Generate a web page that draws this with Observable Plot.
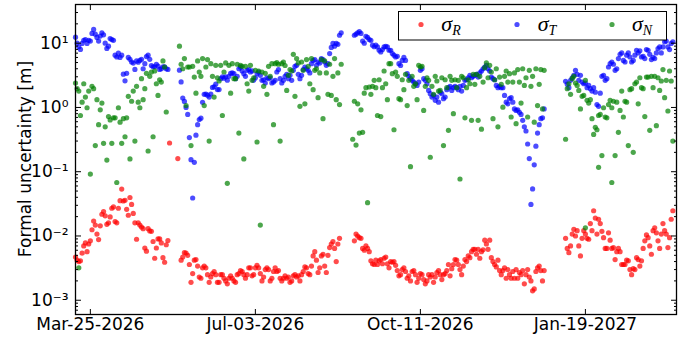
<!DOCTYPE html>
<html><head><meta charset="utf-8">
<script src="https://cdn.jsdelivr.net/npm/d3@7"></script>
<script src="https://cdn.jsdelivr.net/npm/@observablehq/plot@0.6"></script>
<style>body{margin:0;background:#fff}#chart{position:relative;width:691px;height:340px}</style>
</head><body><div id="chart"></div>
<script>
// day 0 = Mar-16-2026
const seriesNames = ["σR", "σT", "σN"];
const xTickLabels = ["Mar-25-2026", "Jul-03-2026", "Oct-11-2026", "Jan-19-2027"];
const yTicks = [1e-3, 1e-2, 1e-1, 1, 10];
const yLabel = "Formal uncertainty [m]";

const redStarts = [0, 64, 169, 297];
const redSegs = [
 [0.0047,0.0042,0.004,0.0041,0.0054,0.007,0.0078,0.0057,0.0075,0.0084,0.0125,0.0171,0.0148,0.0107,0.0088,0.0144,0.0218,0.024,0.0206,0.0152,0.016,0.0198,0.027,0.0283,0.0168,0.016,0.027,0.0354,0.0537,0.035,0.036,0.026,0.021,0.0397,0.031,0.0224,0.016,0.0089,0.016,0.0148,0.0138,0.013,0.0065,0.0058,0.013,0.012,0.0118,0.0082,0.0045,0.0065,0.009,0.009,0.0078,0.0046,0.0039,0.0073,0.0085],
 [0.0042,0.0047,0.0055,0.0054,0.005,0.0036,0.0019,0.0026,0.0042,0.0043,0.0034,0.0023,0.0022,0.0032,0.0034,0.0032,0.0025,0.0019,0.0023,0.0026,0.0028,0.0025,0.0019,0.0019,0.0025,0.0025,0.0022,0.002,0.0018,0.0022,0.0024,0.0022,0.002,0.0019,0.0025,0.0026,0.0029,0.0028,0.0025,0.0022,0.0025,0.0032,0.0032,0.0024,0.0025,0.0032,0.0035,0.0032,0.0026,0.002,0.0023,0.003,0.0032,0.003,0.002,0.0022,0.0028,0.0032,
  0.0028,0.0029,0.0022,0.002,0.0022,0.0024,0.0022,0.0023,0.0019,0.002,0.0024,0.0025,0.0023,0.0024,0.002,0.0025,0.0028,0.0033,0.0032,0.0026,0.0025,0.0034,0.0049,0.0057,0.0042,0.0027,0.0032,0.0049,0.0052,0.0034,0.0027,0.005,0.0066,0.0075,0.0082,0.0064,0.004,0.0075,0.0092],
 [0.0084,0.0107,0.01,0.0094,0.0092,0.0064,0.006,0.007,0.0064,0.0057,0.0041,0.0037,0.0036,
  0.0042,0.0036,0.0041,0.0043,0.0037,0.0045,0.0047,0.0037,0.0032,0.004,0.0039,0.004,0.0035,0.0029,0.0024,0.0025,0.003,0.0032,0.0028,0.0022,0.0024,0.002,0.0028,0.0029,0.0025,0.0019,0.0022,0.0026,0.0025,0.0021,0.0018,0.002,0.0025,0.0023,0.0025,0.0019,0.0023,0.0027,0.0029,0.0025,0.0021,0.0025,0.0026,0.0029,0.0036,0.0024,0.0031,0.0036,0.0043,0.0042,0.0036,0.003,0.0025,0.0034,0.0043,0.004,0.0049,0.0046,0.0057,0.0062,
  0.0062,0.0052,0.0062,0.0045,0.0057,0.0061,0.0086,0.0075,0.0062,0.0086,0.0046,0.004,0.0036,0.0033,0.0042,0.0029,0.0025,0.0029,0.0032,0.0022,0.003,0.0025,0.0022,0.0028,0.0022,0.003,0.0022,0.0027,0.0025,0.0029,0.0018,0.0025,0.003,0.0023,0.002,0.0014,0.0015,0.0028,0.0032,0.0034,0.0029,0.002,0.0029],
 [0.0092,0.0064,0.0055,0.007,0.0107,0.0127,
  0.01,0.0121,0.007,0.0049,0.0092,0.0121,0.0107,0.0092,0.0089,0.0156,0.0121,0.0247,0.019,0.0107,0.0182,0.0156,0.0118,0.0094,0.0064,0.0064,0.0112,0.0086,0.0064,0.0066,0.0043,0.0057,0.0064,0.0057,0.0036,0.0036,0.0036,0.0042,0.0041,0.003,0.0025,0.0031,0.003,0.0046,0.0043,0.0034,0.0041,0.0064,0.0084,0.0104,0.0094,0.007,0.0052,0.0121,0.0134,0.0112,0.0084,0.0064,0.0107,0.0156,0.0121,0.0107,0.0066,0.0094,0.0182,0.0247]
];
const redExtraDays = [57, 62];
const redExtraVals = [0.28, 0.16];

const blueStarts = [0, 63, 169, 297];
const blueSegs = [
 [12.4,10,8.8,8.0,9.9,11.1,11.4,9.9,11.1,10.8,14.2,16.4,13.8,12.3,10.8,12.9,14.5,13.5,10,8.3,9,11.8,11.4,11.1,6.5,6.1,7.0,6.0,6.5,3.3,2.6,3.4,6.0,5.6,5.1,4.9,3.9,5.3,5.05,5.4,5.6,4.0,4.8,6.2,6.5,5.6,4.5,4.3,4.3,4.7,4.4,3.9,4.0,4.3,4.3,4.0,3.9],
 [3.8,2.5,1.4,1.24,1.0,0.78,0.34,0.154,0.039,0.14,0.37,0.54,0.65,0.68,1.2,1.6,1.62,1.55,1.45,1.62,2.05,2.1,2.3,1.9,1.9,2.8,3.0,2.85,3.0,2.65,3.05,3.4,3.45,3.35,
  2.8,3.05,4.0,4.26,3.7,3.36,3.05,3.78,3.88,3.56,3.7,2.64,2.9,3.36,3.56,3.16,2.64,2.7,2.4,2.9,2.8,2.9,2.4,2.5,2.64,
  3.56,3.88,2.8,2.4,2.64,3.05,3.28,2.8,3.16,2.64,3.78,4.37,4.53,3.28,2.8,3.16,3.88,4.26,4.0,3.78,3.44,4.8,5.4,5.56,4.53,5.1,4.9,5.77,5.56,5.1,4.53,4.8,6.9,8.6,9.9,8.98,9.9,9.6,13.3,14.5],
 [13.3,13.8,14.5,15.1,14.2,10.8,10,12.8,12.3,11.4,11.1,9.3,8.8,
  9.3,8.75,7.77,7.3,7.96,8.75,8.9,8.75,7.77,7.77,6.9,6.5,6.1,6.26,4.8,4.5,5.4,6.0,5.4,3.36,3.05,2.8,2.64,2.48,2.34,2.2,2.48,3.78,4.0,2.8,2.64,2.34,1.84,1.64,1.45,1.54,1.29,1.45,1.21,1.73,1.64,1.37,1.45,1.89,2.03,2.13,1.84,2.03,2.13,2.03,1.89,2.13,1.8,2.2,2.64,2.7,2.9,3.16,2.9,3.05,
  3.16,3.28,2.97,3.44,3.69,4.0,4.26,4.53,4.0,3.69,2.97,2.8,2.7,2.2,2.03,2.13,2.03,2.03,1.54,1.21,1.14,1.37,1.42,1.21,0.95,0.9,0.92,0.84,0.78,0.63,0.5,0.43,0.27,0.16,0.031,0.054,0.128,0.25,0.4,0.54,0.67,0.69,0.95],
 [2.55,2.3,2.03,2.64,2.9,3.16,
  3.78,3.28,2.64,3.16,2.48,2.34,2.4,2.03,2.2,1.96,1.8,2.03,1.73,1.11,1.04,1.67,3.05,3.16,2.64,2.8,4.26,4.8,5.1,4.7,3.78,4.0,5.77,6.7,7.05,5.4,5.1,6.5,7.05,6.1,5.1,5.4,6.5,7.77,7.05,7.6,6.1,6.26,5.77,7.96,7.77,6.7,5.56,6.0,5.77,7.05,8.25,8.75,7.05,8.75,10.5,10.8,8.75,7.96,9.9,10.5]
];

const greenStarts = [0, 63, 168, 297];
const greenSegs = [
 [2.4,1.96,1.8,0.75,1.21,2.34,1.45,0.99,1.8,0.092,2.13,1.96,0.255,1.32,0.54,0.92,1.17,0.277,0.5,0.152,0.72,0.64,0.277,0.69,0.69,0.068,0.99,0.59,0.277,0.67,0.35,0.69,1.49,0.158,1.25,1.8,0.3,2.13,1.21,0.99,2.8,1.32,1.96,3.4,0.21,3.05,3.56,0.35,3.7,2.34,1.54,2.7,2.48,5.3,4.26,0.85],
 [8.98,4.7,4.0,5.77,1.07,4.26,4.26,0.255,4.37,2.97,1.67,5.3,3.56,3.05,5.77,1.07,4.26,5.56,0.3,4.8,3.05,1.45,4.53,2.9,2.58,4.53,0.75,3.56,4.93,0.066,4.53,1.67,4.8,2.8,2.8,4.7,0.4,4.53,4.37,0.158,4.37,2.34,1.8,4.53,2.64,2.9,3.78,0.29,3.69,0.0148,3.56,2.13,3.4,1.6,4.37,3.05,4.8,0.54,4.8,
  5.0,4.7,0.3,4.8,5.1,4.5,1.84,3.16,3.88,3.69,6.7,1.49,5.77,4.93,1.04,5.1,3.78,1.14,5.56,4.37,2.34,5.77,1.89,3.78,4.0,1.42,3.44,5.56,0.67,5.3,3.44,1.6,4.7,1.54,3.05,5.77,1.32,3.44,1.11,4.7],
 [0.32,1.25,0.26,1.14,0.4,0.92,0.41,1.67,2.03,0.033,2.08,1.6,2.13,2.64,
  2.03,0.75,2.7,0.72,2.03,3.69,2.34,1.32,4.8,4.8,3.36,0.45,3.56,3.05,1.37,1.32,2.7,1.89,3.28,1.07,2.64,0.12,3.05,2.13,2.34,1.32,4.53,4.26,4.37,0.9,2.13,2.9,2.64,0.168,2.13,1.6,3.05,2.58,1.8,1.84,2.9,0.255,2.7,2.03,0.44,3.05,2.64,0.8,2.7,2.03,2.64,0.077,3.05,2.9,0.69,2.03,2.7,2.34,0.63,3.28,
  2.29,3.28,0.63,3.05,0.46,2.48,4.16,4.93,2.9,4.53,3.56,0.67,2.7,4.0,0.5,2.97,2.29,1.01,3.05,3.69,2.48,3.36,0.71,2.48,3.44,0.56,3.88,2.48,1.17,4.0,2.2,2.9,0.71,3.78,2.13,3.05,0.59,4.0,1.07,2.29,3.88,0.95,3.78],
 [0.32,1.96,2.34,1.6,2.8,3.05,
  2.4,2.2,1.84,0.95,1.49,1.54,2.64,1.29,1.17,1.32,0.67,0.38,0.49,0.45,0.75,0.78,0.178,0.99,0.71,0.69,1.11,1.29,0.99,1.25,0.178,1.21,0.41,0.9,1.8,0.71,1.25,1.21,0.255,1.89,1.96,0.2,2.34,2.48,1.14,2.9,2.03,1.96,0.72,2.97,2.97,0.44,3.05,2.03,3.05,0.52,2.9,1.84,2.58,3.88,1.42,2.64,0.88,3.69,2.58,0.3]
];
const greenExtraDays = [2, 309, 317, 325];
const greenExtraVals = [0.0032, 0.0134, 0.117, 0.068];

const dayToDate = d => new Date(Date.UTC(2026, 2, 16 + d));
function build(name, starts, segs, exDays, exVals) {
  const out = [];
  segs.forEach((seg, i) => seg.forEach((v, j) => out.push({series: name, date: dayToDate(starts[i] + j), value: v})));
  (exDays || []).forEach((d, i) => out.push({series: name, date: dayToDate(d), value: exVals[i]}));
  return out;
}
const data = [
  ...build(seriesNames[0], redStarts, redSegs, redExtraDays, redExtraVals),
  ...build(seriesNames[1], blueStarts, blueSegs),
  ...build(seriesNames[2], greenStarts, greenSegs, greenExtraDays, greenExtraVals)
];

const parse = d3.utcParse("%b-%d-%Y");
const xTicks = xTickLabels.map(parse);
const sup = {"-": "⁻", "0": "⁰", "1": "¹", "2": "²", "3": "³"};
const yFmt = d => "10" + String(Math.round(Math.log10(d))).split("").map(c => sup[c]).join("");
const minorTicks = [];
for (let k = -4; k <= 1; k++) for (let m = 2; m <= 9; m++) { const v = m * 10 ** k; if (v > 6e-4 && v < 40) minorTicks.push(v); }

const colors = ["#ff0000", "#0000ff", "#008000"];
const chart = Plot.plot({
  width: 691, height: 340,
  marginLeft: 75, marginRight: 15, marginTop: 4, marginBottom: 26,
  style: {fontFamily: "DejaVu Sans", fontSize: "17px", background: "white", color: "black"},
  x: {type: "utc", domain: [dayToDate(0), new Date(Date.UTC(2027, 2, 15, 5))]},
  y: {type: "log", domain: [6e-4, 40]},
  color: {domain: seriesNames, range: colors},
  marks: [
    Plot.dot(data, {x: "date", y: "value", fill: "series", r: 2.6, fillOpacity: 0.7}),
    Plot.frame({stroke: "black", strokeWidth: 1.3}),
    Plot.axisX({ticks: xTicks, tickFormat: d3.utcFormat("%b-%d-%Y"), tickSize: 0, tickPadding: 3, label: null, fontSize: 17}),
    Plot.axisX({ticks: xTicks, anchor: "bottom", tickSize: -5, fill: "none", label: null}),
    Plot.axisX({ticks: xTicks, anchor: "top", tickSize: -5, fill: "none", label: null}),
    Plot.axisY({ticks: yTicks, tickFormat: yFmt, tickSize: 0, tickPadding: 7, fontSize: 17, label: null}),
    Plot.axisY({ticks: yTicks, anchor: "left", tickSize: -6, fill: "none", label: null}),
    Plot.axisY({ticks: minorTicks, anchor: "left", tickSize: -3, fill: "none", label: null}),
    Plot.axisY({ticks: yTicks, anchor: "right", tickSize: -6, fill: "none", label: null}),
    Plot.axisY({ticks: minorTicks, anchor: "right", tickSize: -3, fill: "none", label: null})
  ]
});
document.getElementById("chart").appendChild(chart);

const svg = d3.select(chart);
// y-axis title (no arrow), centred on the frame
svg.append("text").attr("transform", "translate(31,159) rotate(-90)")
  .attr("text-anchor", "middle").attr("font-family", "DejaVu Sans").attr("font-size", 17)
  .attr("fill", "black").text(yLabel);

// legend inside the axes (upper right)
const lg = svg.append("g");
lg.append("rect").attr("x", 398.5).attr("y", 11.5).attr("width", 268).attr("height", 28.5)
  .attr("fill", "white").attr("stroke", "black").attr("stroke-width", 1);
const legendX = [421, 517, 612];
const subs = ["R", "T", "N"];
seriesNames.forEach((n, i) => {
  lg.append("circle").attr("cx", legendX[i]).attr("cy", 24.5).attr("r", 2.6)
    .attr("fill", colors[i]).attr("fill-opacity", 0.7);
  const t = lg.append("text").attr("x", legendX[i] + 30).attr("y", 31)
    .attr("font-family", "Liberation Serif").attr("font-style", "italic").attr("font-size", 22).attr("fill", "black");
  t.append("tspan").text("σ");
  t.append("tspan").attr("font-size", 14).attr("dy", 4).text(subs[i]);
});
</script>
</body></html>
